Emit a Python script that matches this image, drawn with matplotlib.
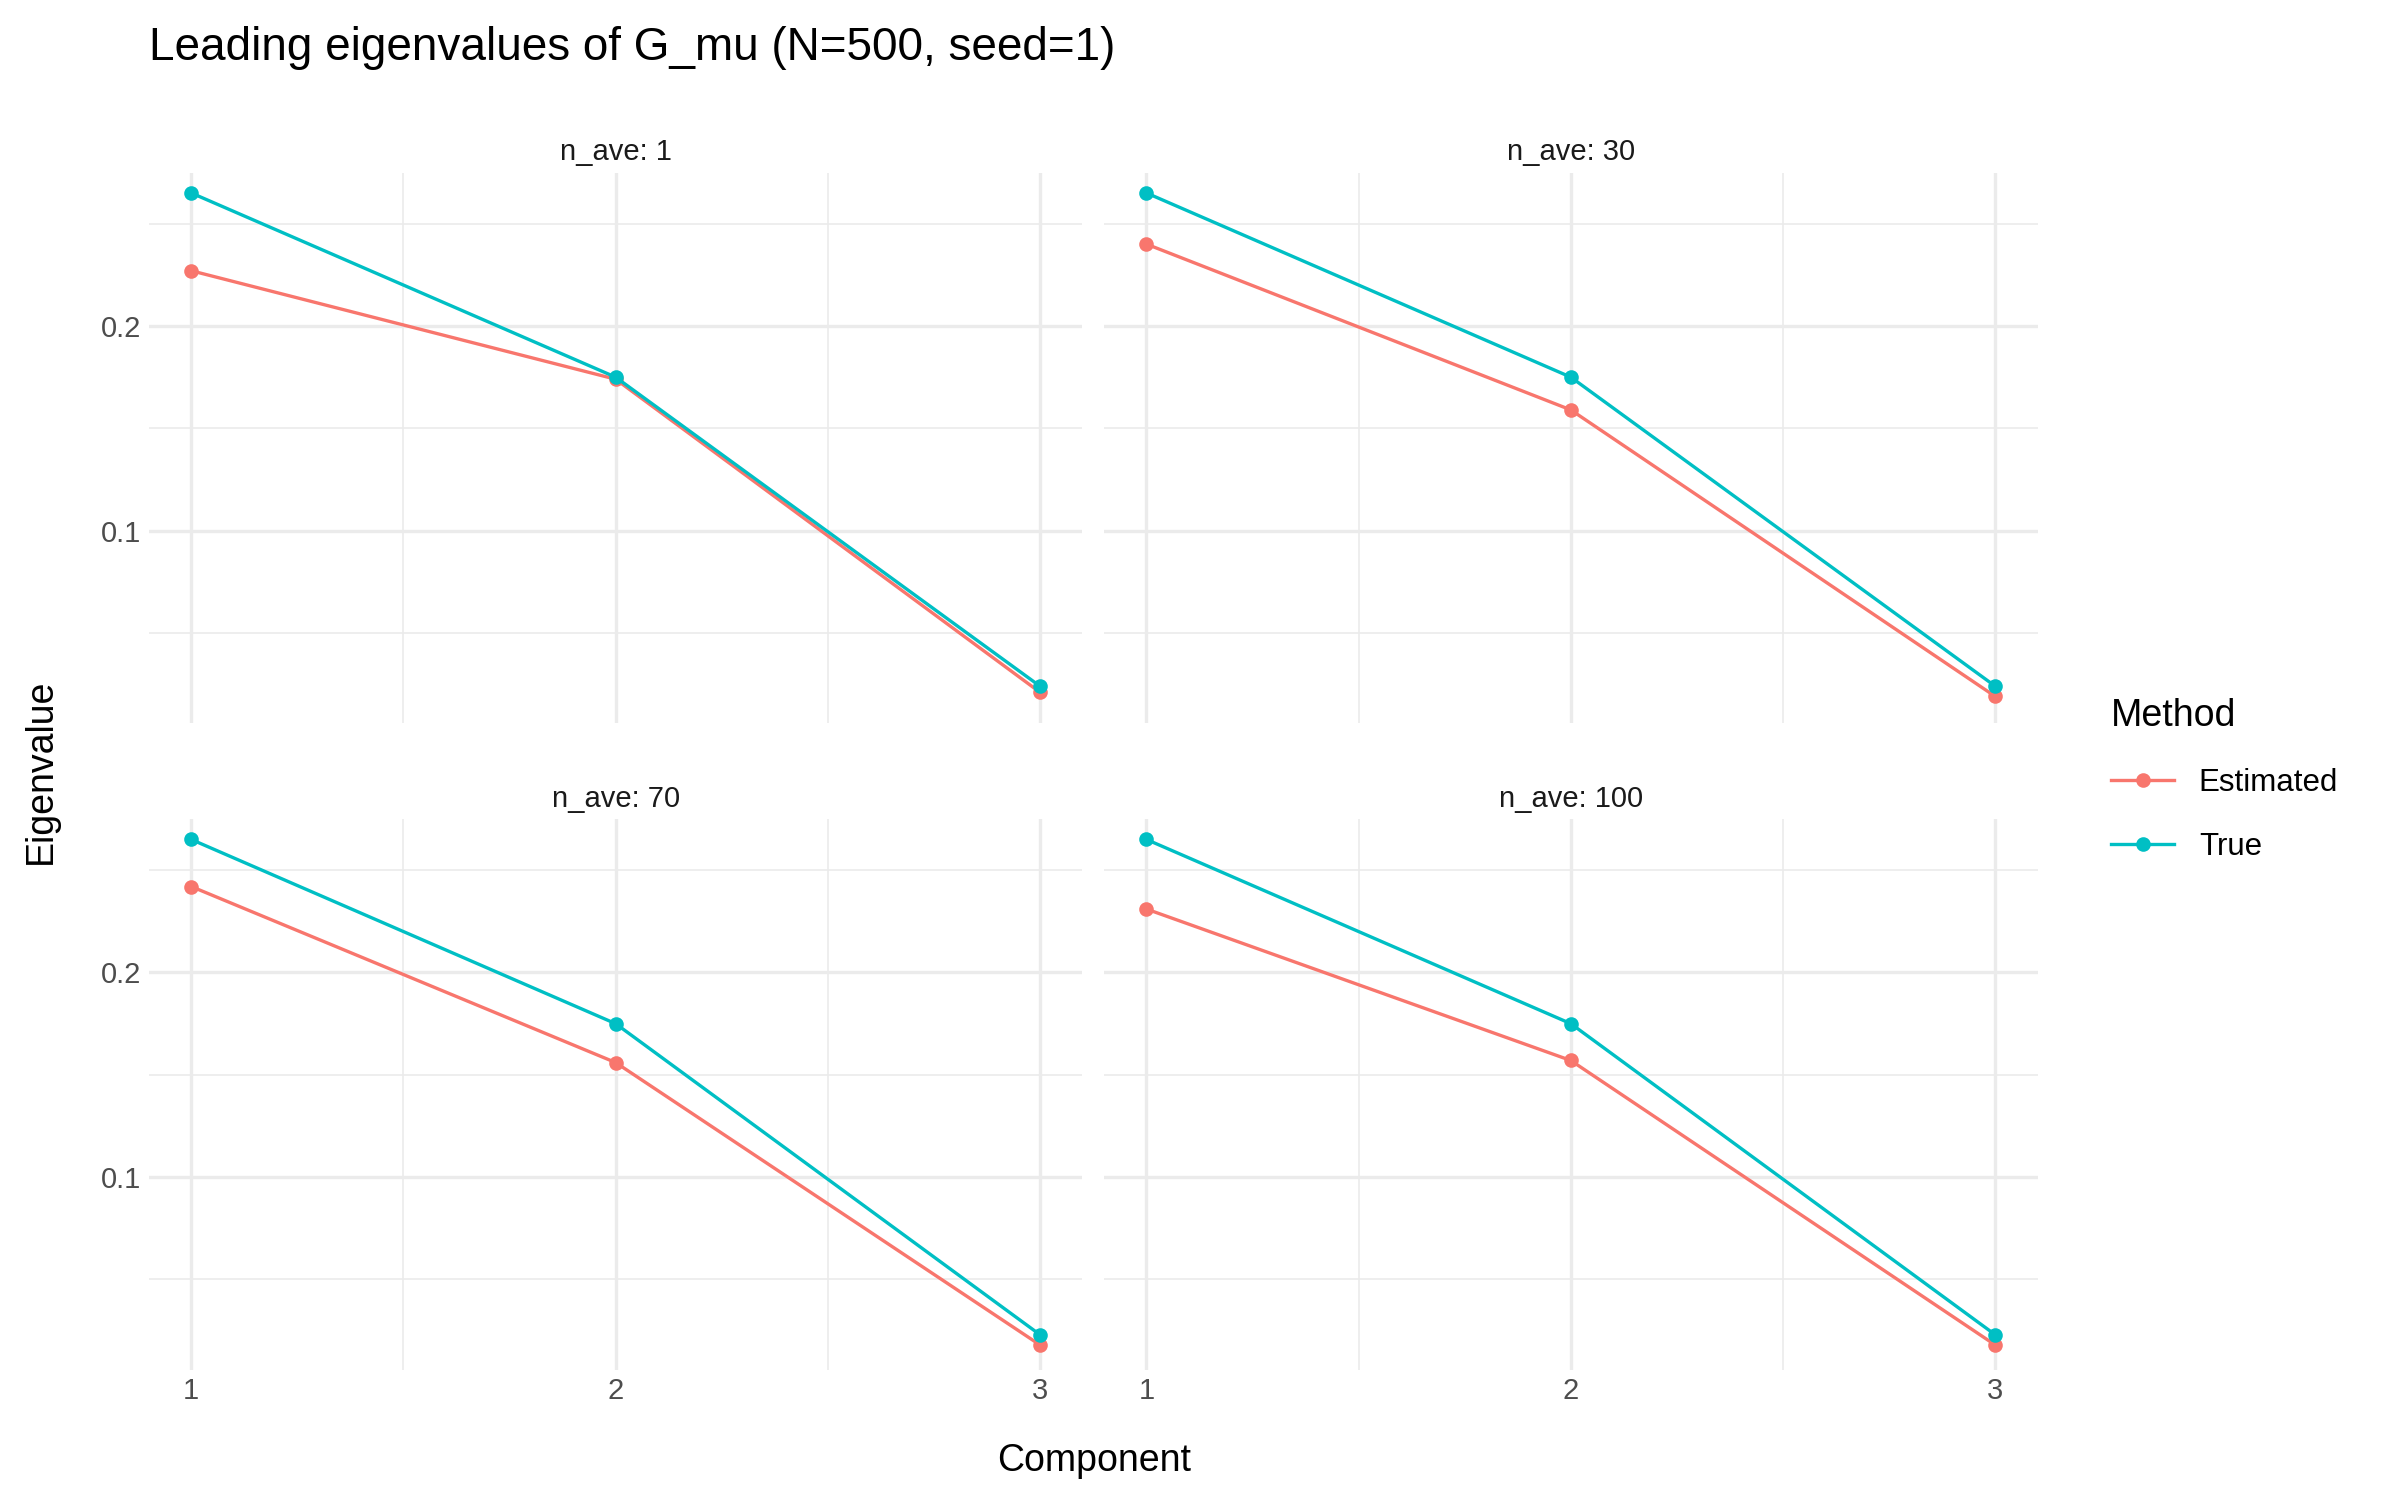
import matplotlib
matplotlib.use("Agg")
import matplotlib.pyplot as plt
from matplotlib.lines import Line2D

plt.rcParams['font.family'] = ['Liberation Sans', 'DejaVu Sans']

components = [1, 2, 3]
panels = ["n_ave: 1", "n_ave: 30", "n_ave: 70", "n_ave: 100"]
true_vals = [[0.265, 0.175, 0.024], [0.265, 0.175, 0.024], [0.265, 0.175, 0.023], [0.265, 0.175, 0.023]]
est_vals = [[0.227, 0.174, 0.021], [0.240, 0.159, 0.019], [0.242, 0.156, 0.018], [0.231, 0.157, 0.018]]
c_est, c_true = "#F8766D", "#00BFC4"

fig = plt.figure(figsize=(16, 10), dpi=150)
fig.patch.set_facecolor("white")
boxes = [(0.062, 0.518), (0.460, 0.518), (0.062, 0.087), (0.460, 0.087)]
w, h = 0.389, 0.367
for i, (x0, y0) in enumerate(boxes):
    ax = fig.add_axes([x0, y0, w, h])
    ax.set_xlim(0.9, 3.1)
    ax.set_ylim(0.006, 0.275)
    ax.set_yticks([0.1, 0.2])
    ax.set_yticks([0.05, 0.15, 0.25], minor=True)
    ax.set_xticks([1, 2, 3])
    ax.set_xticks([1.5, 2.5], minor=True)
    ax.grid(True, which="major", color="#EBEBEB", lw=1.6)
    ax.grid(True, which="minor", color="#EBEBEB", lw=0.8)
    ax.set_axisbelow(True)
    for s in ax.spines.values():
        s.set_visible(False)
    ax.tick_params(which="both", length=0, labelsize=14, colors="#4D4D4D")
    ax.set_yticklabels(["0.1", "0.2"])
    if i in (1, 3):
        ax.set_yticklabels([])
    if i in (0, 1):
        ax.set_xticklabels([])
    ax.plot(components, est_vals[i], color=c_est, lw=1.6, marker="o", ms=6)
    ax.plot(components, true_vals[i], color=c_true, lw=1.6, marker="o", ms=6)
    ax.set_title(panels[i], fontsize=14, color="#1A1A1A", pad=6)

fig.text(0.062, 0.968, "Leading eigenvalues of G_mu (N=500, seed=1)", fontsize=22, va="center")
fig.text(0.456, 0.026, "Component", fontsize=18, ha="center", va="center")
fig.text(0.017, 0.486, "Eigenvalue", fontsize=18, rotation=90, ha="center", va="center")
handles = [Line2D([], [], color=c_est, marker="o", lw=1.6, ms=6),
           Line2D([], [], color=c_true, marker="o", lw=1.6, ms=6)]
leg = fig.legend(handles, ["Estimated", "True"], title="Method", loc="center left",
                 bbox_to_anchor=(0.868, 0.48), frameon=False, fontsize=15,
                 title_fontsize=18, labelspacing=1.1, handlelength=2)
leg._legend_box.align = "left"
fig.savefig("out.png", dpi=150)
